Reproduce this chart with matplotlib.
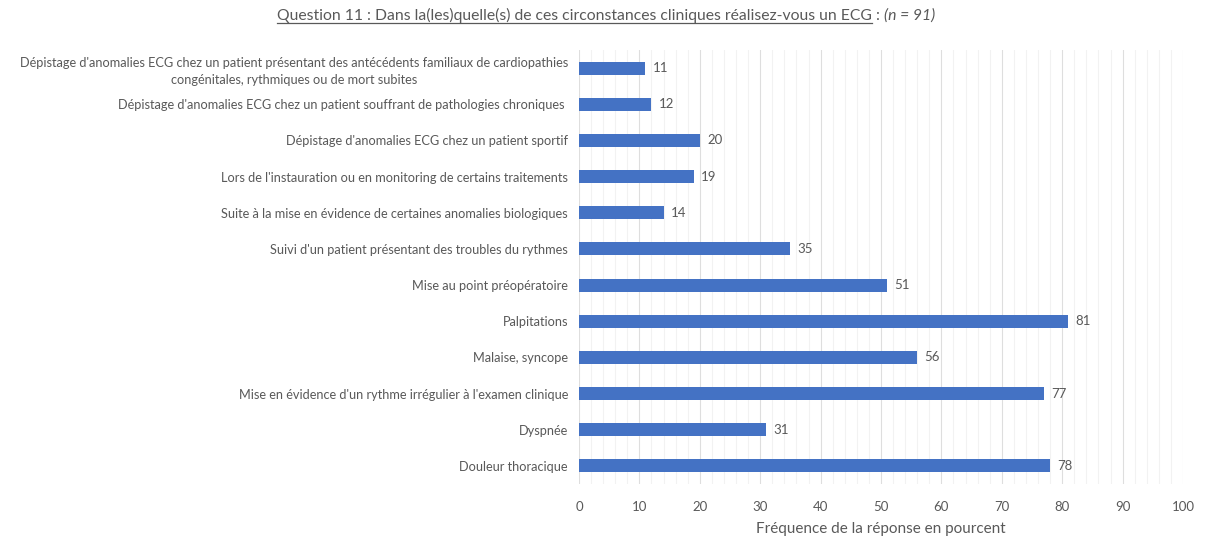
import matplotlib
matplotlib.use("Agg")
import matplotlib.pyplot as plt
from matplotlib.ticker import MultipleLocator

plt.rcParams['font.family'] = ['Lato', 'DejaVu Sans']

categories = [
    "Dépistage d'anomalies ECG chez un patient présentant des antécédents familiaux de cardiopathies\ncongénitales, rythmiques ou de mort subites",
    "Dépistage d'anomalies ECG chez un patient souffrant de pathologies chroniques ",
    "Dépistage d'anomalies ECG chez un patient sportif",
    "Lors de l'instauration ou en monitoring de certains traitements",
    "Suite à la mise en évidence de certaines anomalies biologiques",
    "Suivi d'un patient présentant des troubles du rythmes",
    "Mise au point préopératoire",
    "Palpitations",
    "Malaise, syncope",
    "Mise en évidence d'un rythme irrégulier à l'examen clinique",
    "Dyspnée",
    "Douleur thoracique",
]
values = [11, 12, 20, 19, 14, 35, 51, 81, 56, 77, 31, 78]
x_ticks = list(range(0, 101, 10))

text_color = "#595959"
bar_color = "#4472C4"

fig = plt.figure(figsize=(12.06, 5.45), dpi=100)
ax = fig.add_axes([579 / 1206, 61 / 545, (1183 - 579) / 1206, (484 - 50) / 545])

ypos = list(range(len(categories)))
ax.barh(ypos, values, height=0.36, color=bar_color, zorder=3)
for y, v in zip(ypos, values):
    ax.text(v + 1.2, y, f"{v}", va="center", ha="left", fontsize=9.5, color=text_color)

ax.set_xlim(0, 100)
ax.set_ylim(len(categories) - 0.5, -0.5)
ax.set_xticks(x_ticks)
ax.xaxis.set_minor_locator(MultipleLocator(2))
ax.set_yticks(ypos)
ax.set_yticklabels(categories, fontsize=9.2, color=text_color, multialignment="center",
                   linespacing=1.45)
ax.tick_params(axis="y", length=0, pad=8)
ax.tick_params(axis="x", which="both", length=0, pad=12, labelsize=9.5, labelcolor=text_color)
ax.grid(axis="x", which="major", color="#DEDEDE", linewidth=0.8, zorder=0)
ax.grid(axis="x", which="minor", color="#F2F2F2", linewidth=0.8, zorder=0)
for s in ax.spines.values():
    s.set_visible(False)
ax.set_xlabel("Fréquence de la réponse en pourcent", fontsize=11, color=text_color, labelpad=7)

# Title: underlined main part followed by an italic sample size
fig.canvas.draw()
renderer = fig.canvas.get_renderer()
main = "Question 11 : Dans la(les)quelle(s) de ces circonstances cliniques réalisez-vous un ECG"
title_kw = dict(fontsize=11.3, color=text_color, va="baseline")
t1 = fig.text(0, 525 / 545, main, **title_kw)
t2 = fig.text(0, 525 / 545, " : ", **title_kw)
t3 = fig.text(0, 525 / 545, "(n = 91)", style="italic", **title_kw)
w1 = t1.get_window_extent(renderer).width
w2 = t2.get_window_extent(renderer).width
w3 = t3.get_window_extent(renderer).width
total = w1 + w2 + w3
x0 = 606 - total / 2
W = fig.bbox.width
t1.set_x(x0 / W)
t2.set_x((x0 + w1) / W)
t3.set_x((x0 + w1 + w2) / W)
yline = (525 - 3) / 545
fig.add_artist(plt.Line2D([x0 / W, (x0 + w1) / W], [yline, yline], transform=fig.transFigure,
                          color=text_color, linewidth=0.9))

fig.savefig("out.png", dpi=100)
